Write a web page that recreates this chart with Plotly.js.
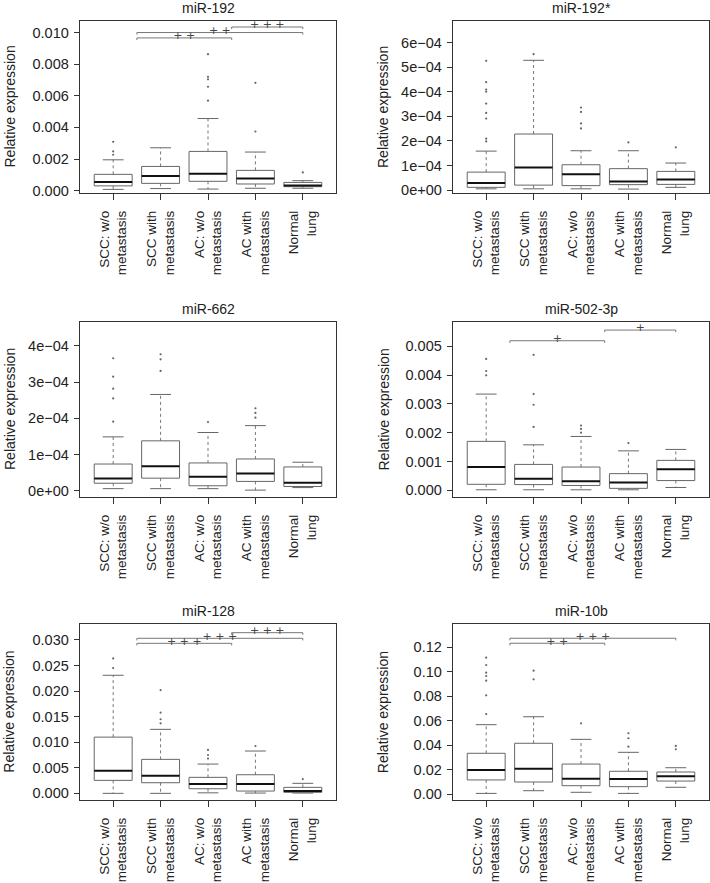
<!DOCTYPE html>
<html><head><meta charset="utf-8">
<script src="https://cdn.plot.ly/plotly-3.0.1.min.js"></script>
<style>html,body{margin:0;padding:0;background:#fff}#chart{width:710px;height:883px}</style>
</head><body><div id="chart"></div>
<script>
// ---------- data ----------
const categories = ['SCC: w/o<br>metastasis','SCC with<br>metastasis','AC: w/o<br>metastasis','AC with<br>metastasis','Normal<br>lung'];
const catPos = [1, 2, 3, 4, 5];
const panelTitles = ['miR-192', 'miR-192*', 'miR-662', 'miR-502-3p', 'miR-128', 'miR-10b'];

// miR-192
const m192Lo  = [0.00008, 0.00013, 0.00010, 0.00015, 0.00015];
const m192Q1  = [0.00030, 0.00046, 0.00059, 0.00042, 0.00025];
const m192Med = [0.00055, 0.00093, 0.00107, 0.00076, 0.00033];
const m192Q3  = [0.00103, 0.00153, 0.00248, 0.00128, 0.00052];
const m192Hi  = [0.00195, 0.00271, 0.00456, 0.00244, 0.00063];
const m192Out = [[0.00309, 0.00248, 0.00227], [], [0.00863, 0.0072, 0.00704, 0.00657, 0.00569], [0.00682, 0.00374], [0.00115]];
const m192Sig = [[1.5, 3.5, 0.00966, '+ +'], [1.5, 5, 0.0100, '+ +'], [3.5, 5, 0.01035, '+ + +']];
const m192Ticks = [0, 0.002, 0.004, 0.006, 0.008, 0.010];
const m192TickText = ['0.000', '0.002', '0.004', '0.006', '0.008', '0.010'];

// miR-192*
const m192sLo  = [0.05e-4, 0.05e-4, 0.05e-4, 0.04e-4, 0.11e-4];
const m192sQ1  = [0.11e-4, 0.20e-4, 0.18e-4, 0.22e-4, 0.23e-4];
const m192sMed = [0.285e-4, 0.92e-4, 0.64e-4, 0.35e-4, 0.43e-4];
const m192sQ3  = [0.73e-4, 2.28e-4, 1.03e-4, 0.87e-4, 0.76e-4];
const m192sHi  = [1.585e-4, 5.28e-4, 1.60e-4, 1.60e-4, 1.10e-4];
const m192sOut = [[5.26e-4, 4.39e-4, 4.09e-4, 4.0e-4, 3.52e-4, 3.14e-4, 2.91e-4, 2.09e-4, 1.98e-4], [5.53e-4], [3.36e-4, 3.18e-4, 2.71e-4, 2.51e-4], [1.94e-4], [1.74e-4]];
const m192sSig = [];
const m192sTicks = [0, 1e-4, 2e-4, 3e-4, 4e-4, 5e-4, 6e-4];
const m192sTickText = ['0e+00', '1e\u221204', '2e\u221204', '3e\u221204', '4e\u221204', '5e\u221204', '6e\u221204'];

// miR-662
const m662Lo  = [0.06e-4, 0.06e-4, 0.06e-4, 0.02e-4, 0.09e-4];
const m662Q1  = [0.21e-4, 0.35e-4, 0.14e-4, 0.26e-4, 0.12e-4];
const m662Med = [0.34e-4, 0.68e-4, 0.39e-4, 0.48e-4, 0.22e-4];
const m662Q3  = [0.74e-4, 1.38e-4, 0.77e-4, 0.88e-4, 0.66e-4];
const m662Hi  = [1.49e-4, 2.66e-4, 1.61e-4, 1.80e-4, 0.79e-4];
const m662Out = [[3.66e-4, 3.15e-4, 2.82e-4, 2.55e-4, 1.91e-4], [3.77e-4, 3.63e-4, 3.31e-4], [1.90e-4], [2.28e-4, 2.15e-4, 2.02e-4], []];
const m662Sig = [];
const m662Ticks = [0, 1e-4, 2e-4, 3e-4, 4e-4];
const m662TickText = ['0e+00', '1e\u221204', '2e\u221204', '3e\u221204', '4e\u221204'];

// miR-502-3p
const m502Lo  = [0.00002, 0.00002, 0.00002, 0.00002, 0.00010];
const m502Q1  = [0.00021, 0.00020, 0.00017, 0.00007, 0.00034];
const m502Med = [0.00081, 0.00040, 0.00032, 0.00027, 0.00073];
const m502Q3  = [0.00170, 0.00090, 0.00081, 0.00058, 0.00104];
const m502Hi  = [0.00334, 0.00158, 0.00187, 0.00137, 0.00142];
const m502Out = [[0.00456, 0.00414, 0.00399], [0.0047, 0.00334, 0.00297, 0.0022], [0.00225, 0.00213, 0.0020], [0.00164], []];
const m502Sig = [[1.5, 3.5, 0.00519, '+'], [3.5, 5, 0.00556, '+']];
const m502Ticks = [0, 0.001, 0.002, 0.003, 0.004, 0.005];
const m502TickText = ['0.000', '0.001', '0.002', '0.003', '0.004', '0.005'];

// miR-128
const m128Lo  = [0.0000, 0.0000, 0.0001, 0.00006, 0.00006];
const m128Q1  = [0.00254, 0.00208, 0.0009, 0.00045, 0.0002];
const m128Med = [0.0044, 0.00345, 0.00182, 0.00182, 0.00045];
const m128Q3  = [0.0110, 0.00665, 0.00313, 0.00364, 0.00117];
const m128Hi  = [0.0231, 0.01252, 0.00573, 0.00828, 0.00196];
const m128Out = [[0.0264, 0.0245], [0.0202, 0.0158, 0.0145, 0.0137], [0.0085, 0.0075, 0.0068], [0.00926], [0.0028]];
const m128Sig = [[1.5, 3.5, 0.02935, '+ + +'], [1.5, 5, 0.03033, '+ + +'], [3.5, 5, 0.03143, '+ + +']];
const m128Ticks = [0, 0.005, 0.010, 0.015, 0.020, 0.025, 0.030];
const m128TickText = ['0.000', '0.005', '0.010', '0.015', '0.020', '0.025', '0.030'];

// miR-10b
const m10bLo  = [0.0005, 0.0027, 0.0014, 0.0005, 0.0055];
const m10bQ1  = [0.0115, 0.0098, 0.0068, 0.0060, 0.0106];
const m10bMed = [0.0196, 0.0207, 0.0125, 0.0123, 0.0145];
const m10bQ3  = [0.0333, 0.0415, 0.0245, 0.0186, 0.0180];
const m10bHi  = [0.0567, 0.0632, 0.0447, 0.0341, 0.0215];
const m10bOut = [[0.1115, 0.1055, 0.0992, 0.0965, 0.0927, 0.0807, 0.0654], [0.1009, 0.0938], [0.0578], [0.0497, 0.0456, 0.0387], [0.0393, 0.0366]];
const m10bSig = [[1.5, 3.5, 0.1233, '+ +'], [1.5, 5, 0.1274, '+ + +']];
const m10bTicks = [0, 0.02, 0.04, 0.06, 0.08, 0.10, 0.12];
const m10bTickText = ['0.00', '0.02', '0.04', '0.06', '0.08', '0.10', '0.12'];

// ---------- layout geometry ----------
const W = 710, H = 883;
const colDom = [[80 / W, 336 / W], [453 / W, 709 / W]];
const rowDom = [[1 - 193 / H, 1 - 21 / H], [1 - 497 / H, 1 - 322 / H], [1 - 800 / H, 1 - 624.3 / H]];
const yRanges = [[-0.00015, 0.01073], [-0.12e-4, 6.88e-4], [-0.17e-4, 4.66e-4], [-0.00023, 0.00584], [-0.0013, 0.03307], [-0.0049, 0.1388]];

const panels = [
  {lo: m192Lo, q1: m192Q1, med: m192Med, q3: m192Q3, hi: m192Hi, out: m192Out, sig: m192Sig, tv: m192Ticks, tt: m192TickText},
  {lo: m192sLo, q1: m192sQ1, med: m192sMed, q3: m192sQ3, hi: m192sHi, out: m192sOut, sig: m192sSig, tv: m192sTicks, tt: m192sTickText},
  {lo: m662Lo, q1: m662Q1, med: m662Med, q3: m662Q3, hi: m662Hi, out: m662Out, sig: m662Sig, tv: m662Ticks, tt: m662TickText},
  {lo: m502Lo, q1: m502Q1, med: m502Med, q3: m502Q3, hi: m502Hi, out: m502Out, sig: m502Sig, tv: m502Ticks, tt: m502TickText},
  {lo: m128Lo, q1: m128Q1, med: m128Med, q3: m128Q3, hi: m128Hi, out: m128Out, sig: m128Sig, tv: m128Ticks, tt: m128TickText},
  {lo: m10bLo, q1: m10bQ1, med: m10bMed, q3: m10bQ3, hi: m10bHi, out: m10bOut, sig: m10bSig, tv: m10bTicks, tt: m10bTickText}
];

const FONT = 'Liberation Sans, Arial, Helvetica, sans-serif';
const boxHalf = 0.4, capHalf = 0.22;
const traces = [];
const annotations = [];
const layout = {
  width: W, height: H, margin: {l: 0, r: 0, t: 0, b: 0},
  paper_bgcolor: '#fff', plot_bgcolor: '#fff', showlegend: false,
  font: {family: FONT, size: 14, color: '#222'}
};

panels.forEach((p, i) => {
  const n = i + 1;
  const xa = n === 1 ? 'x' : 'x' + n, ya = n === 1 ? 'y' : 'y' + n;
  const col = i % 2, row = Math.floor(i / 2);
  const yr = yRanges[i];
  const span = yr[1] - yr[0];
  const hook = span * 0.012;

  const bx = [], by = [], mx = [], my = [], wx = [], wy = [], cx = [], cy = [], ox = [], oy = [];
  catPos.forEach((c, k) => {
    bx.push(c - boxHalf, c + boxHalf, c + boxHalf, c - boxHalf, c - boxHalf, null);
    by.push(p.q1[k], p.q1[k], p.q3[k], p.q3[k], p.q1[k], null);
    mx.push(c - boxHalf, c + boxHalf, null);
    my.push(p.med[k], p.med[k], null);
    wx.push(c, c, null, c, c, null);
    wy.push(p.q3[k], p.hi[k], null, p.q1[k], p.lo[k], null);
    cx.push(c - capHalf, c + capHalf, null, c - capHalf, c + capHalf, null);
    cy.push(p.hi[k], p.hi[k], null, p.lo[k], p.lo[k], null);
    p.out[k].forEach(v => { ox.push(c); oy.push(v); });
  });
  const common = {xaxis: xa, yaxis: ya, hoverinfo: 'skip', type: 'scatter'};
  traces.push(Object.assign({x: wx, y: wy, mode: 'lines', line: {color: '#777', width: 1, dash: 'dot'}}, common));
  traces.push(Object.assign({x: cx, y: cy, mode: 'lines', line: {color: '#666', width: 1}}, common));
  traces.push(Object.assign({x: bx, y: by, mode: 'lines', line: {color: '#666', width: 1}}, common));
  traces.push(Object.assign({x: mx, y: my, mode: 'lines', line: {color: '#111', width: 2}}, common));
  traces.push(Object.assign({x: ox, y: oy, mode: 'markers', marker: {color: '#666', size: 2.2}}, common));

  // significance brackets
  const sx = [], sy = [], tx = [], ty = [], tl = [];
  p.sig.forEach(s => {
    sx.push(s[0], s[0], s[1], s[1], null);
    sy.push(s[2] - hook, s[2], s[2], s[2] - hook, null);
    tx.push((s[0] + s[1]) / 2); ty.push(s[2] + span * 0.008); tl.push(s[3]);
  });
  if (sx.length) {
    traces.push(Object.assign({x: sx, y: sy, mode: 'lines', line: {color: '#777', width: 1}, cliponaxis: false}, common));
    traces.push(Object.assign({x: tx, y: ty, text: tl, mode: 'text', textposition: 'middle center', cliponaxis: false,
      opacity: 0.99, textfont: {size: 11, color: '#444', family: 'DejaVu Sans, sans-serif'}}, common));
  }

  const axLine = {showline: true, mirror: true, linecolor: '#333', linewidth: 1.3, showgrid: false, zeroline: false,
    ticks: 'outside', tickcolor: '#333', tickwidth: 1};
  layout[n === 1 ? 'xaxis' : 'xaxis' + n] = Object.assign({}, axLine, {
    domain: colDom[col], anchor: ya, range: [0.3, 5.7], tickvals: catPos, ticktext: categories,
    tickangle: -90, ticklen: 6, ticklabelstandoff: 5, tickfont: {size: 13.5, family: FONT, color: '#222'}, fixedrange: true
  });
  layout[n === 1 ? 'yaxis' : 'yaxis' + n] = Object.assign({}, axLine, {
    domain: rowDom[row], anchor: xa, range: yr, tickvals: p.tv, ticktext: p.tt,
    ticklen: 5, ticklabelstandoff: 2, tickfont: {size: 14.5, family: FONT, color: '#222'}, fixedrange: true
  });

  // panel title
  annotations.push({xref: xa, yref: 'paper', x: 3, y: rowDom[row][1], yshift: 13, yanchor: 'middle',
    text: panelTitles[i], showarrow: false, font: {size: 14, family: FONT, color: '#222'}});
  // y-axis title
  annotations.push({xref: 'paper', yref: 'paper', x: (col === 0 ? 9.5 : 383) / W, xanchor: 'center',
    y: (rowDom[row][0] + rowDom[row][1]) / 2, yanchor: 'middle', textangle: -90,
    text: 'Relative expression', showarrow: false, font: {size: 14, family: FONT, color: '#222'}});
});
layout.annotations = annotations;

Plotly.newPlot('chart', traces, layout, {staticPlot: true, displayModeBar: false});
</script>
</body></html>
